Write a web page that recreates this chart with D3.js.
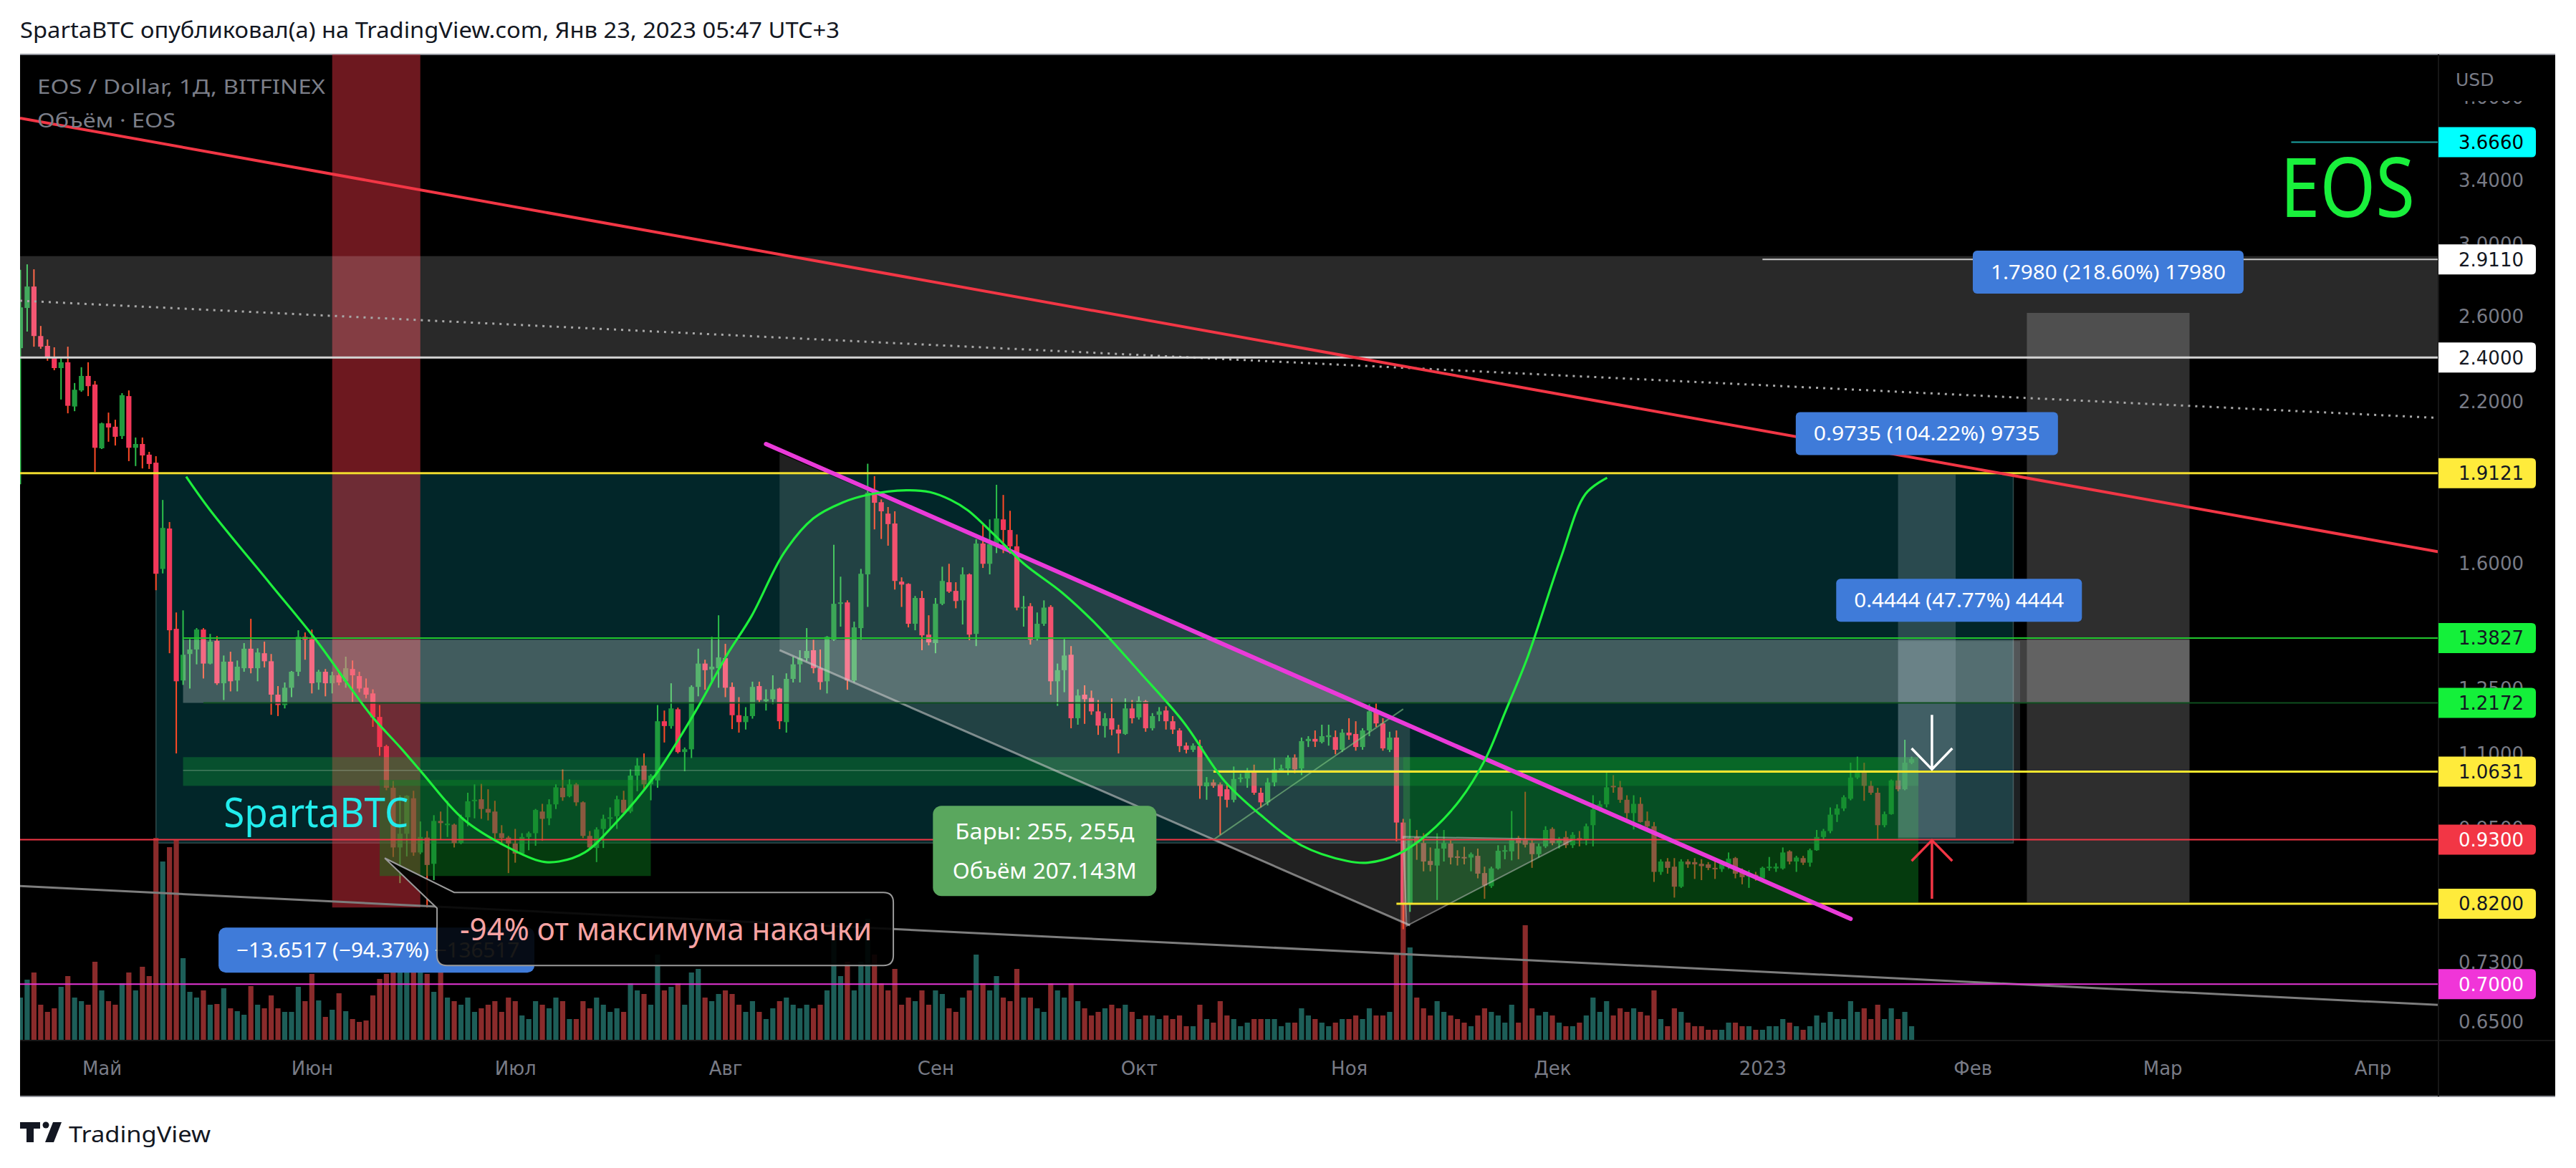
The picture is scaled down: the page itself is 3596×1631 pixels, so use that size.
<!DOCTYPE html>
<html><head><meta charset="utf-8">
<script src="https://cdn.jsdelivr.net/npm/d3@7"></script>
<style>body{margin:0;background:#fff;overflow:hidden}</style>
</head><body>
<svg id="c" width="3596" height="1631"></svg>
<script>
// ---------- DATA ----------
const firstDay = "2022-04-19", lastDay = "2023-01-23";
const open = [
2.445,2.646,2.760,2.504,2.456,2.401,2.351,2.378,2.180,2.250,
2.315,2.276,2.008,2.109,2.095,2.057,2.225,2.010,2.025,1.983,
1.952,1.584,1.715,1.408,1.272,1.340,1.352,1.406,1.315,1.375,
1.265,1.320,1.272,1.303,1.354,1.303,1.342,1.321,1.237,1.212,
1.254,1.294,1.386,1.380,1.267,1.294,1.265,1.285,1.270,1.301,
1.283,1.254,1.240,1.184,1.118,1.030,0.916,0.941,1.009,0.907,
0.934,0.887,0.965,0.957,0.958,0.924,0.972,1.004,1.007,0.988,
0.983,0.942,0.934,0.923,0.905,0.935,0.942,0.983,0.970,0.997,
1.030,1.013,1.037,1.001,0.937,0.915,0.950,0.969,0.974,1.006,
0.983,1.055,1.076,1.037,1.045,1.174,1.163,1.202,1.105,1.111,
1.256,1.315,1.300,1.303,1.329,1.256,1.188,1.172,1.186,1.258,
1.221,1.226,1.252,1.172,1.276,1.313,1.329,1.350,1.303,1.270,
1.378,1.479,1.483,1.272,1.410,1.567,1.840,1.806,1.766,1.732,
1.545,1.538,1.422,1.496,1.392,1.369,1.479,1.543,1.517,1.489,
1.567,1.394,1.665,1.600,1.663,1.746,1.710,1.656,1.468,1.472,
1.380,1.422,1.470,1.270,1.298,1.338,1.181,1.237,1.229,1.197,
1.163,1.181,1.155,1.145,1.204,1.183,1.221,1.158,1.189,1.199,
1.174,1.153,1.119,1.110,1.118,1.033,1.041,1.037,1.027,1.006,
1.048,1.049,1.062,1.020,1.001,1.041,1.066,1.070,1.093,1.070,
1.129,1.134,1.127,1.138,1.138,1.110,1.148,1.145,1.116,1.153,
1.197,1.169,1.110,1.137,0.962,0.819,0.935,0.924,0.892,0.884,
0.914,0.923,0.900,0.899,0.898,0.901,0.871,0.849,0.879,0.909,
0.909,0.933,0.930,0.924,0.904,0.918,0.950,0.924,0.935,0.920,
0.933,0.930,0.957,0.987,0.997,1.034,1.031,1.006,0.980,0.998,
0.965,0.955,0.873,0.891,0.882,0.848,0.891,0.890,0.887,0.886,
0.880,0.878,0.887,0.897,0.873,0.865,0.868,0.862,0.880,0.879,
0.879,0.909,0.891,0.897,0.889,0.911,0.935,0.946,0.977,0.989,
1.008,1.051,1.062,1.034,1.020,0.957,0.978,1.045,1.027,1.082];
const high = [
2.852,2.883,2.855,2.554,2.487,2.449,2.395,2.452,2.283,2.355,
2.378,2.292,2.112,2.154,2.124,2.238,2.250,2.051,2.051,1.994,
1.977,1.814,1.737,1.454,1.460,1.380,1.410,1.410,1.394,1.388,
1.336,1.346,1.323,1.369,1.436,1.355,1.373,1.340,1.258,1.267,
1.296,1.404,1.398,1.406,1.299,1.301,1.294,1.296,1.333,1.323,
1.294,1.277,1.250,1.212,1.121,1.044,1.015,1.015,1.024,0.964,
0.946,0.976,0.983,1.004,0.960,0.977,1.020,1.037,1.038,1.027,
1.004,0.957,0.937,0.950,0.942,0.945,0.988,0.998,1.007,1.037,
1.068,1.047,1.040,1.003,0.946,0.953,0.977,0.991,1.014,1.024,
1.068,1.092,1.102,1.058,1.212,1.199,1.265,1.206,1.115,1.260,
1.354,1.325,1.386,1.446,1.367,1.267,1.231,1.207,1.269,1.269,
1.250,1.285,1.254,1.290,1.333,1.350,1.410,1.378,1.352,1.388,
1.661,1.560,1.489,1.428,1.584,1.948,1.901,1.816,1.789,1.774,
1.558,1.540,1.502,1.517,1.446,1.496,1.591,1.600,1.543,1.589,
1.570,1.679,1.727,1.746,1.869,1.832,1.776,1.695,1.502,1.481,
1.454,1.489,1.475,1.315,1.380,1.361,1.250,1.260,1.247,1.224,
1.193,1.228,1.166,1.228,1.224,1.233,1.224,1.193,1.207,1.209,
1.186,1.158,1.126,1.124,1.132,1.052,1.047,1.041,1.037,1.074,
1.059,1.071,1.078,1.030,1.050,1.092,1.078,1.098,1.100,1.137,
1.140,1.153,1.166,1.166,1.153,1.156,1.181,1.174,1.158,1.214,
1.216,1.181,1.150,1.153,0.969,0.969,0.948,0.942,0.916,0.942,
0.948,0.929,0.911,0.917,0.907,0.914,0.882,0.882,0.920,0.920,
0.984,0.937,1.022,0.930,0.923,0.955,0.953,0.935,0.946,0.944,
0.946,0.960,1.015,1.004,1.063,1.056,1.044,1.015,1.015,1.011,
0.983,0.963,0.895,0.897,0.897,0.895,0.895,0.897,0.895,0.890,
0.891,0.892,0.907,0.899,0.879,0.876,0.873,0.882,0.899,0.888,
0.916,0.911,0.901,0.901,0.914,0.948,0.950,0.991,0.997,1.015,
1.082,1.095,1.082,1.044,1.030,0.983,1.047,1.062,1.132,1.095];
const low = [
1.871,2.526,2.452,2.442,2.385,2.341,2.210,2.151,2.160,2.244,
2.225,1.917,2.005,2.034,2.019,2.045,1.958,1.939,1.930,1.928,
1.519,1.570,1.342,1.102,1.261,1.252,1.313,1.277,1.313,1.261,
1.224,1.245,1.245,1.294,1.290,1.270,1.305,1.189,1.186,1.204,
1.231,1.283,1.325,1.240,1.249,1.233,1.240,1.260,1.254,1.219,
1.243,1.228,1.161,1.097,1.025,0.899,0.854,0.900,0.901,0.904,
0.814,0.859,0.930,0.935,0.916,0.922,0.955,0.970,0.969,0.966,
0.930,0.923,0.871,0.889,0.904,0.911,0.919,0.928,0.957,0.988,
1.004,1.011,0.994,0.933,0.914,0.890,0.915,0.950,0.950,0.976,
0.980,1.023,1.023,1.005,1.030,1.126,1.157,1.102,1.064,1.092,
1.233,1.249,1.267,1.254,1.231,1.156,1.148,1.155,1.180,1.219,
1.199,1.214,1.156,1.148,1.267,1.267,1.321,1.290,1.249,1.240,
1.375,1.414,1.249,1.267,1.378,1.470,1.712,1.680,1.658,1.521,
1.470,1.412,1.404,1.350,1.363,1.342,1.475,1.511,1.466,1.420,
1.377,1.361,1.587,1.567,1.634,1.634,1.632,1.460,1.414,1.365,
1.376,1.416,1.237,1.210,1.243,1.158,1.166,1.168,1.189,1.143,
1.137,1.142,1.102,1.143,1.169,1.178,1.150,1.153,1.174,1.155,
1.145,1.105,1.102,1.105,1.008,1.006,1.030,0.939,0.991,1.001,
1.041,1.030,1.016,0.991,0.995,1.033,1.062,1.056,1.060,1.056,
1.116,1.116,1.124,1.119,1.100,1.105,1.132,1.108,1.110,1.140,
1.161,1.108,1.105,0.927,0.780,0.807,0.894,0.874,0.874,0.826,
0.891,0.886,0.884,0.886,0.874,0.862,0.828,0.846,0.877,0.895,
0.893,0.895,0.916,0.880,0.898,0.915,0.920,0.914,0.915,0.915,
0.918,0.920,0.918,0.983,0.991,1.020,1.000,0.969,0.949,0.962,
0.948,0.856,0.868,0.870,0.830,0.846,0.880,0.861,0.859,0.876,
0.861,0.873,0.878,0.862,0.852,0.846,0.858,0.861,0.875,0.873,
0.877,0.886,0.873,0.885,0.882,0.910,0.930,0.942,0.963,0.984,
1.005,1.048,1.004,1.016,0.930,0.953,0.977,1.023,1.025,1.079];
const close = [
2.649,2.760,2.504,2.452,2.401,2.351,2.378,2.183,2.253,2.315,
2.269,2.010,2.109,2.092,2.054,2.229,2.010,2.025,1.980,1.947,
1.569,1.717,1.404,1.270,1.338,1.352,1.406,1.315,1.373,1.265,
1.320,1.270,1.307,1.354,1.303,1.344,1.321,1.237,1.212,1.254,
1.294,1.386,1.378,1.265,1.294,1.265,1.285,1.267,1.303,1.285,
1.252,1.237,1.183,1.116,1.030,0.916,0.941,1.014,0.907,0.935,
0.885,0.965,0.961,0.960,0.924,0.972,1.003,1.006,0.988,0.981,
0.942,0.933,0.923,0.905,0.935,0.942,0.986,0.969,0.997,1.031,
1.011,1.037,1.001,0.937,0.916,0.949,0.969,0.972,1.007,0.981,
1.055,1.076,1.037,1.055,1.174,1.163,1.204,1.105,1.111,1.256,
1.315,1.298,1.307,1.331,1.254,1.188,1.172,1.186,1.256,1.224,
1.226,1.250,1.174,1.276,1.313,1.329,1.348,1.303,1.268,1.386,
1.479,1.483,1.272,1.412,1.569,1.840,1.804,1.774,1.730,1.547,
1.536,1.422,1.496,1.390,1.371,1.479,1.547,1.515,1.487,1.567,
1.392,1.665,1.600,1.663,1.749,1.710,1.656,1.468,1.470,1.378,
1.422,1.468,1.270,1.298,1.336,1.181,1.235,1.226,1.197,1.164,
1.181,1.155,1.146,1.204,1.181,1.222,1.158,1.186,1.197,1.174,
1.155,1.118,1.110,1.119,1.034,1.041,1.034,1.013,1.006,1.048,
1.051,1.062,1.020,1.001,1.041,1.068,1.070,1.093,1.068,1.129,
1.134,1.128,1.140,1.142,1.110,1.148,1.142,1.116,1.153,1.197,
1.169,1.113,1.137,0.962,0.819,0.933,0.924,0.891,0.885,0.914,
0.924,0.898,0.898,0.898,0.904,0.870,0.850,0.879,0.910,0.911,
0.930,0.924,0.921,0.904,0.918,0.948,0.924,0.930,0.920,0.939,
0.929,0.955,0.987,0.997,1.031,1.031,1.006,0.980,0.998,0.963,
0.955,0.873,0.891,0.880,0.848,0.891,0.886,0.886,0.883,0.880,
0.878,0.887,0.896,0.870,0.864,0.868,0.866,0.880,0.882,0.882,
0.907,0.891,0.898,0.889,0.911,0.935,0.946,0.977,0.989,1.011,
1.051,1.062,1.034,1.020,0.957,0.978,1.045,1.027,1.082,1.090];
// daily volume (relative units)
const volume = [
60,85,95,50,40,45,75,90,60,55, 50,110,70,55,50,80,95,70,103,90,
283,250,270,281,115,68,60,70,50,51, 73,45,41,36,76,50,45,63,45,40,
40,75,55,93,56,33,43,66,41,30, 26,28,63,86,93,143,120,113,103,98,
93,68,95,60,55,50,60,40,45,50, 55,40,60,55,35,30,55,50,45,60,
55,30,30,55,45,60,50,40,45,40, 80,70,65,50,120,70,75,80,50,95,
100,60,55,65,70,65,50,40,55,40, 30,45,55,60,50,45,50,45,50,70,
150,90,110,70,110,170,120,80,70,100, 50,60,55,70,50,70,65,45,40,60,
70,120,80,70,90,60,55,100,60,60, 45,40,80,70,60,80,55,45,35,40,
45,50,45,50,40,30,35,35,30,35, 30,35,20,20,50,30,25,55,35,30,
20,25,30,30,30,30,20,25,25,45, 35,30,25,20,25,30,30,35,30,45,
35,35,40,120,224,130,60,45,35,55, 40,35,30,25,20,35,45,40,35,25,
50,25,161,45,35,40,35,25,20,20, 25,35,60,40,55,35,45,40,45,40,
35,70,30,20,45,40,25,20,20,15, 15,15,25,25,20,20,15,15,20,20,
30,25,20,15,20,35,25,40,30,30, 55,40,45,30,50,30,45,30,40,20];

const monthTicks = ["2022-05-01","2022-06-01","2022-07-01","2022-08-01","2022-09-01","2022-10-01","2022-11-01","2022-12-01","2023-01-01","2023-02-01","2023-03-01","2023-04-01"];
const monthLabels = ["Май","Июн","Июл","Авг","Сен","Окт","Ноя","Дек","2023","Фев","Мар","Апр"];
const priceTicks = [4.0,3.4,3.0,2.6,2.2,1.6,1.25,1.1,0.95,0.73,0.65];

const levelPrices = [3.666,2.911,2.4,1.9121,1.3827,1.2172,1.0631,0.93,0.82,0.70];
const levelFrom   = ["2023-03-20","2023-01-01",null,null,"2022-05-13","2022-05-16","2022-10-12",null,"2022-11-08",null];

const curveDates = ["2022-05-13T11:00","2022-05-16T23:00","2022-05-25T18:00","2022-06-01T12:00","2022-06-06T21:00","2022-06-09T20:00","2022-06-14T07:00","2022-06-17T09:00","2022-06-23T07:00","2022-06-29T23:00","2022-07-04T22:00","2022-07-07T11:00","2022-07-11T06:00","2022-07-15T09:00","2022-07-21T15:00","2022-07-27T23:00","2022-08-01T02:00","2022-08-04T21:00","2022-08-09T15:00","2022-08-13T23:00","2022-08-18T07:00","2022-08-22T03:00","2022-08-27T17:00","2022-08-31T05:00","2022-09-03T06:00","2022-09-05T19:00","2022-09-09T17:00","2022-09-14T01:00","2022-09-19T16:00","2022-09-24T20:00","2022-10-01T07:00","2022-10-07T12:00","2022-10-13T15:00","2022-10-18T22:00","2022-10-24T23:00","2022-10-31T17:00","2022-11-03T19:00","2022-11-08T06:00","2022-11-12T18:00","2022-11-17T08:00","2022-11-21T03:00","2022-11-24T02:00","2022-11-27T09:00","2022-12-02T05:00","2022-12-05T22:00","2022-12-09T02:00"];
const curvePrices = [1.899,1.779,1.541,1.380,1.250,1.186,1.111,1.059,0.969,0.916,0.891,0.891,0.907,0.955,1.055,1.207,1.333,1.444,1.634,1.749,1.805,1.833,1.849,1.842,1.814,1.777,1.693,1.600,1.512,1.418,1.290,1.174,1.044,0.977,0.920,0.892,0.889,0.904,0.942,1.005,1.090,1.197,1.333,1.616,1.836,1.895];

const rangeFrom  = ["2023-01-21","2023-01-21","2023-02-09"];
const rangeTo    = ["2023-01-29T12:00","2023-02-08","2023-03-05"];
const rangeLow   = [0.934,0.930,0.8225];
const rangeHigh  = [1.9075,1.3744,2.6205];
const rangeText  = ["0.9735 (104.22%) 9735","0.4444 (47.77%) 4444","1.7980 (218.60%) 17980"];

// ---------- SETUP ----------
const PL=28, PR=3404, PT=76, PB=1453, AR=3567, AB=1531;
const T = s => new Date(s.length===10 ? s+"T00:00:00Z" : s+":00Z");
const x = d3.scaleUtc().domain([T("2022-05-01"),T("2023-04-01")]).range([142,3312]);
const y = d3.scaleLog().domain([0.65,3.4]).range([1427,252]);
const dates = d3.utcDay.range(T(firstDay), d3.utcDay.offset(T(lastDay),1));
const bars = dates.map((d,i)=>({d,o:open[i],h:Math.max(high[i],open[i],close[i]),l:Math.min(low[i],open[i],close[i]),c:close[i],v:volume[i]}));
const yv = d3.scaleLinear().domain([0,d3.max(volume)]).range([PB,1170]);
const X = s => x(T(s));

const svg = d3.select("#c");
const FA = "'DejaVu Sans', sans-serif";
const FT = "'Noto Sans', 'DejaVu Sans', sans-serif";
const fitText = (sel,len)=>sel.attr("textLength",len).attr("lengthAdjust","spacingAndGlyphs");

svg.append("rect").attr("width",3596).attr("height",1631).attr("fill","#fff");
// title
fitText(svg.append("text").attr("x",28).attr("y",53).attr("font-family",FT).attr("font-size",30).attr("fill","#131722")
  .text("SpartaBTC опубликовал(а) на TradingView.com, Янв 23, 2023 05:47 UTC+3"),1144);
// panel
svg.append("rect").attr("x",PL).attr("y",PT).attr("width",AR-PL).attr("height",AB-PT).attr("fill","#000");
svg.append("line").attr("x1",PL).attr("x2",AR).attr("y1",PT).attr("y2",PT).attr("stroke","#8f9199").attr("stroke-width",2);
svg.append("line").attr("x1",PL).attr("x2",AR).attr("y1",AB).attr("y2",AB).attr("stroke","#8f9199").attr("stroke-width",2);

svg.append("defs").append("clipPath").attr("id","clip").append("rect").attr("x",PL).attr("y",PT).attr("width",PR-PL).attr("height",PB-PT);
const plot = svg.append("g").attr("clip-path","url(#clip)");

// ---------- BACKGROUND ZONES (under candles) ----------
plot.append("rect").attr("x",X("2022-05-09")).attr("width",X("2023-02-07")-X("2022-05-09"))
  .attr("y",y(1.9121)).attr("height",y(0.924)-y(1.9121)).attr("fill","rgba(8,153,165,0.25)")
  .attr("stroke","rgba(140,175,175,0.35)").attr("stroke-width",1.5);

// ---------- VOLUME ----------
plot.append("g").selectAll("rect").data(bars).join("rect")
  .attr("x",b=>x(b.d)-3.6).attr("width",7.2).attr("y",b=>yv(b.v)).attr("height",b=>PB-yv(b.v))
  .attr("fill",b=>b.c>=b.o?"#1d5e58":"#8a2b2b");

// ---------- CANDLES ----------
const gc = plot.append("g");
gc.selectAll("line").data(bars).join("line")
  .attr("x1",b=>x(b.d)).attr("x2",b=>x(b.d)).attr("y1",b=>y(b.h)).attr("y2",b=>y(b.l))
  .attr("stroke",b=>b.c>=b.o?"#2cbf4a":"#ff4a26").attr("stroke-width",2);
gc.selectAll("rect").data(bars).join("rect")
  .attr("x",b=>x(b.d)-3.6).attr("width",7.2)
  .attr("y",b=>y(Math.max(b.o,b.c))).attr("height",b=>Math.max(2,Math.abs(y(b.o)-y(b.c))))
  .attr("fill",b=>b.c>=b.o?"#1f9a3e":"#f2385a");

// ---------- OVERLAY ZONES ----------
const zone=(d1,d2,p1,p2,fill)=>plot.append("rect").attr("x",X(d1)).attr("width",X(d2)-X(d1))
  .attr("y",p1==null?PT:y(p1)).attr("height",(p2==null?PB:y(p2))-(p1==null?PT:y(p1))).attr("fill",fill);
// red vertical band
plot.append("rect").attr("x",X("2022-06-04")).attr("width",X("2022-06-17")-X("2022-06-04"))
  .attr("y",PT).attr("height",y(0.814)-PT).attr("fill","rgba(242,54,69,0.45)");
// top grey box
plot.append("rect").attr("x",PL).attr("width",PR-PL).attr("y",y(2.93)).attr("height",y(2.4)-y(2.93)).attr("fill","rgba(255,255,255,0.16)");
// white band
zone("2022-05-13","2023-03-05",1.378,1.2172,"rgba(255,255,255,0.25)");
// green band
zone("2022-05-13","2023-01-24",1.094,1.034,"rgba(20,180,60,0.30)");
plot.append("line").attr("x1",X("2022-05-13")).attr("x2",X("2023-01-24")).attr("y1",y(1.066)).attr("y2",y(1.066)).attr("stroke","rgba(180,200,180,0.35)").attr("stroke-width",1.5);
// dark green boxes
zone("2022-06-11","2022-07-21",1.046,0.866,"rgba(10,130,30,0.45)");
zone("2022-11-09","2023-01-24",1.094,0.822,"rgba(10,130,30,0.45)");
// channel
const chan=[["2022-08-09",1.988],["2022-11-10",1.167],["2022-11-10",0.786],["2022-08-09",1.350]];
plot.append("path").attr("d","M"+chan.map(p=>[X(p[0]),y(p[1])].join(",")).join("L")+"Z").attr("fill","rgba(255,255,255,0.13)");
plot.append("line").attr("x1",X("2022-08-09")).attr("y1",y(1.350)).attr("x2",X("2022-11-10")).attr("y2",y(0.786)).attr("stroke","rgba(200,200,200,0.6)").attr("stroke-width",3);
// triangle
const tri=[["2022-11-09",0.9357],["2022-12-04",0.930],["2022-11-09T12:00",0.785]];
plot.append("path").attr("d","M"+tri.map(p=>[X(p[0]),y(p[1])].join(",")).join("L")+"Z").attr("fill","rgba(255,255,255,0.12)").attr("stroke","rgba(200,200,200,0.5)").attr("stroke-width",2);
// rising wedge line
plot.append("line").attr("x1",X("2022-10-12")).attr("y1",y(0.930)).attr("x2",X("2022-11-09")).attr("y2",y(1.2026)).attr("stroke","rgba(130,200,130,0.6)").attr("stroke-width",2);
// range boxes
const rangeFill=["rgba(185,205,215,0.22)","rgba(185,205,215,0.16)","rgba(255,255,255,0.18)"];
rangeFrom.forEach((d,i)=>zone(d,rangeTo[i],rangeHigh[i],rangeLow[i],rangeFill[i]));

// ---------- LINES ----------
function ext(d1,p1,d2,p2){const x1=X(d1),y1=y(p1),x2=X(d2),y2=y(p2),k=(y2-y1)/(x2-x1);return [PL,y1+k*(PL-x1),PR,y1+k*(PR-x1)];}
const drawLine=(c,attrs)=>{const l=plot.append("line").attr("x1",c[0]).attr("y1",c[1]).attr("x2",c[2]).attr("y2",c[3]);Object.entries(attrs).forEach(([k,v])=>l.attr(k,v));return l;};
drawLine(ext("2022-04-19",2.684,"2023-02-25",2.194),{stroke:"#a8a8a8","stroke-width":3,"stroke-dasharray":"3,7"});
drawLine(ext("2022-04-19",0.849,"2023-02-25",0.692),{stroke:"#7d7d7d","stroke-width":3});

const lvlColor=["#1aa3a3","#c8c8c8","#d4d4d4","#f0dc2e","#22c62e","#0e4f1e","#f5e62e","#f23645","#f5e62e","#e535d6"];
const lvlWidth=[2,2,3,3,2,2,3,2,3,2];
levelPrices.forEach((p,i)=>{
  plot.append("line").attr("x1",levelFrom[i]?X(levelFrom[i]):PL).attr("x2",PR).attr("y1",y(p)).attr("y2",y(p))
    .attr("stroke",lvlColor[i]).attr("stroke-width",lvlWidth[i]);
});
drawLine(ext("2022-04-19",3.843,"2023-02-25",1.823),{stroke:"#f23645","stroke-width":4});
// magenta trendline
plot.append("line").attr("x1",X("2022-08-07")).attr("y1",y(2.025)).attr("x2",X("2023-01-14")).attr("y2",y(0.796))
  .attr("stroke","#ea3bd9").attr("stroke-width",6).attr("stroke-linecap","round");
// green curve
plot.append("path").attr("d",d3.line().curve(d3.curveCatmullRom)(curveDates.map((d,i)=>[X(d),y(curvePrices[i])])))
  .attr("fill","none").attr("stroke","#1ef03c").attr("stroke-width",3.2);
// arrows
const ax0=X("2023-01-26"), axL=X("2023-01-23"), axR=X("2023-01-29");
plot.append("path").attr("d",`M${ax0},${y(1.189)}V${y(1.068)}M${axL},${y(1.113)}L${ax0},${y(1.068)}L${axR},${y(1.113)}`)
  .attr("fill","none").attr("stroke","#fff").attr("stroke-width",3.5);
plot.append("path").attr("d",`M${ax0},${y(0.828)}V${y(0.929)}M${axL},${y(0.892)}L${ax0},${y(0.929)}L${axR},${y(0.892)}`)
  .attr("fill","none").attr("stroke","#f23645").attr("stroke-width",3.5);

// ---------- TEXT ANNOTATIONS ----------
fitText(plot.append("text").attr("x",X("2022-05-19")).attr("y",y(0.953)).attr("font-family",FT).attr("font-size",56).attr("fill","#22ecec").text("SpartaBTC"),258);
fitText(svg.append("text").attr("x",3183).attr("y",303).attr("font-family",FT).attr("font-size",116).attr("fill","#19f03c").text("EOS"),188);

// range labels
rangeFrom.forEach((d,i)=>{
  const cx=(X(d)+X(rangeTo[i]))/2, top=y(rangeHigh[i]);
  const tl=[316,293,328][i], w=tl+50, h=60, yb=top-27;
  plot.append("rect").attr("x",cx-w/2).attr("y",yb-h).attr("width",w).attr("height",h).attr("rx",6).attr("fill","#3f7bd9");
  fitText(plot.append("text").attr("x",cx).attr("y",yb-h/2+10).attr("text-anchor","middle").attr("font-family",FT).attr("font-size",27).attr("fill","#fff").text(rangeText[i]),tl);
});

// green bars/volume label
const gx=X("2022-09-17"), gy=y(0.994);
plot.append("rect").attr("x",gx-155).attr("y",gy).attr("width",312).attr("height",126).attr("rx",12).attr("fill","#5aa75e");
fitText(plot.append("text").attr("x",gx+1).attr("y",gy+47).attr("text-anchor","middle").attr("font-family",FT).attr("font-size",31).attr("fill","#fff").text("Бары: 255, 255д"),250);
fitText(plot.append("text").attr("x",gx+1).attr("y",gy+102).attr("text-anchor","middle").attr("font-family",FT).attr("font-size",31).attr("fill","#fff").text("Объём 207.143M"),257);

// blue left label + callout
const tx=X("2022-06-11T18:00"), ty=y(0.897);
plot.append("rect").attr("x",tx-232).attr("y",ty+97).attr("width",441).attr("height",63).attr("rx",10).attr("fill","#3f7bd9");
fitText(plot.append("text").attr("x",tx-207).attr("y",ty+139).attr("font-family",FT).attr("font-size",29).attr("fill","#fff").text("−13.6517 (−94.37%) −136517"),395);
const bx0=tx+73, bx1=tx+710, by0=ty+48, by1=ty+150, r=14;
plot.append("path").attr("d",`M${tx+97},${by0}H${bx1-r}Q${bx1},${by0} ${bx1},${by0+r}V${by1-r}Q${bx1},${by1} ${bx1-r},${by1}H${bx0+r}Q${bx0},${by1} ${bx0},${by1-r}V${ty+70}L${tx},${ty}Z`)
  .attr("fill","rgba(0,0,0,0.9)").attr("stroke","#9a9a9a").attr("stroke-width",2);
fitText(plot.append("text").attr("x",tx+105).attr("y",ty+115).attr("font-family",FT).attr("font-size",43).attr("fill","#f7a3a3").text("-94% от максимума накачки"),575);

// legend
fitText(svg.append("text").attr("x",52).attr("y",131).attr("font-family",FT).attr("font-size",27).attr("fill","#7b7e88").text("EOS / Dollar, 1Д, BITFINEX"),402);
fitText(svg.append("text").attr("x",52).attr("y",178).attr("font-family",FT).attr("font-size",27).attr("fill","#7b7e88").text("Объём · EOS"),193);

// ---------- AXES ----------
svg.append("line").attr("x1",PR).attr("x2",PR).attr("y1",PT).attr("y2",AB).attr("stroke","#161616").attr("stroke-width",2);
svg.append("line").attr("x1",PL).attr("x2",AR).attr("y1",PB).attr("y2",PB).attr("stroke","#161616").attr("stroke-width",2);

const gy1 = svg.append("g").attr("transform","translate(3523,0)")
  .call(d3.axisRight(y).tickValues(priceTicks).tickFormat(d3.format(".4f")).tickSize(0).tickPadding(0));
gy1.select(".domain").remove();
gy1.selectAll("text").attr("x",0).attr("text-anchor","end").attr("font-family",FA).attr("font-size",26).attr("fill","#787b86");
svg.append("rect").attr("x",PR+2).attr("y",PT+1).attr("width",AR-PR-3).attr("height",64).attr("fill","#000");
svg.append("text").attr("x",3428).attr("y",120).attr("font-family",FA).attr("font-size",25).attr("fill","#787b86").text("USD");

const gx1 = svg.append("g").attr("transform","translate(0,1492)")
  .call(d3.axisBottom(x).tickValues(monthTicks.map(T)).tickFormat((d,i)=>monthLabels[i]).tickSize(0).tickPadding(0));
gx1.select(".domain").remove();
gx1.selectAll("text").attr("y",0).attr("dy","0.35em").attr("font-family",FA).attr("font-size",26).attr("fill","#787b86");

// level tags
const tagBg=["#00ffff","#ffffff","#ffffff","#ffeb3b","#14f03a","#14f03a","#ffeb3b","#f23645","#ffeb3b","#f035d8"];
const tagFg=["#000","#131722","#131722","#131722","#131722","#131722","#131722","#fff","#131722","#fff"];
levelPrices.forEach((p,i)=>{
  const yc=y(p), h=21, x1=3540, rr=6;
  svg.append("path").attr("d",`M${PR},${yc-h}H${x1-rr}Q${x1},${yc-h} ${x1},${yc-h+rr}V${yc+h-rr}Q${x1},${yc+h} ${x1-rr},${yc+h}H${PR}Z`).attr("fill",tagBg[i]);
  svg.append("text").attr("x",3523).attr("y",yc).attr("dy","0.36em").attr("text-anchor","end").attr("font-family",FA).attr("font-size",26).attr("fill",tagFg[i]).text(d3.format(".4f")(p));
});

// ---------- FOOTER LOGO ----------
svg.append("path").attr("d","M28,1567H56V1576H47V1595H37V1576H28Z").attr("fill","#131722");
svg.append("circle").attr("cx",64).attr("cy",1571).attr("r",4.5).attr("fill","#131722");
svg.append("path").attr("d","M63,1595L74,1567H86L75,1595Z").attr("fill","#131722");
fitText(svg.append("text").attr("x",96).attr("y",1595).attr("font-family",FT).attr("font-size",31).attr("fill","#131722").text("TradingView"),198);
</script>
</body></html>
